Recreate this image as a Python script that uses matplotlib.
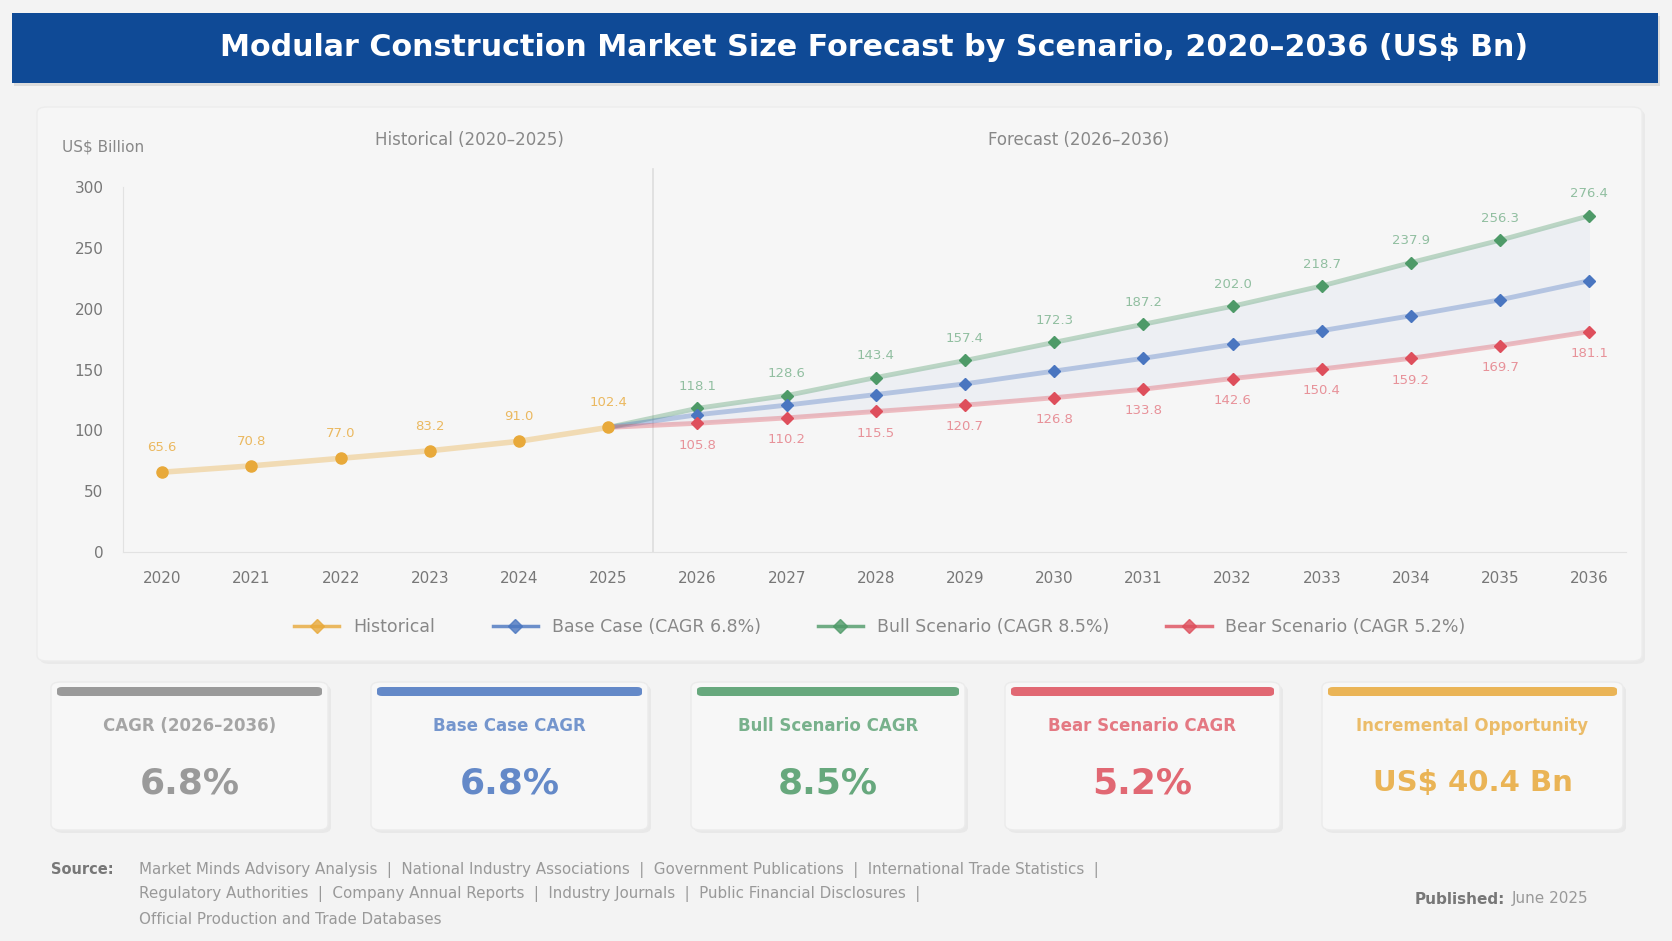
import matplotlib
matplotlib.use("Agg")
import matplotlib.pyplot as plt
from matplotlib.patches import FancyBboxPatch
from matplotlib.lines import Line2D

plt.rcParams['font.family'] = ['DejaVu Sans']

# data (US$ Bn)
hist_years = [2020, 2021, 2022, 2023, 2024, 2025]
hist_vals = [65.6, 70.8, 77.0, 83.2, 91.0, 102.4]

fc_years = [2026, 2027, 2028, 2029, 2030, 2031, 2032, 2033, 2034, 2035, 2036]
base_vals = [112.8, 120.7, 129.4, 138.2, 148.7, 159.2, 170.6, 181.9, 194.2, 207.3, 223.0]
bull_vals = [118.1, 128.6, 143.4, 157.4, 172.3, 187.2, 202.0, 218.7, 237.9, 256.3, 276.4]
bear_vals = [105.8, 110.2, 115.5, 120.7, 126.8, 133.8, 142.6, 150.4, 159.2, 169.7, 181.1]

y_ticks = [0, 50, 100, 150, 200, 250, 300]

card_titles = ["CAGR (2026–2036)", "Base Case CAGR", "Bull Scenario CAGR",
               "Bear Scenario CAGR", "Incremental Opportunity"]
card_values = ["6.8%", "6.8%", "8.5%", "5.2%", "US$ 40.4 Bn"]

sources = ["Market Minds Advisory Analysis  |  National Industry Associations  |  Government Publications  |  International Trade Statistics  |",
           "Regulatory Authorities  |  Company Annual Reports  |  Industry Journals  |  Public Financial Disclosures  |",
           "Official Production and Trade Databases"]

c_hist = '#e8a93a'
c_base = '#4a76c0'
c_bull = '#4e9a68'
c_bear = '#de4f5c'
c_gray = '#8a8a8a'
c_title = '#0f4a96'

W, H = 1672, 941
fig = plt.figure(figsize=(W / 100, H / 100), dpi=100, facecolor='#f3f3f3')


def box(x0, y0, x1, y1, **kw):
    # pixel box (from top-left) -> figure fraction patch
    p = FancyBboxPatch((x0 / W, 1 - y1 / H), (x1 - x0) / W, (y1 - y0) / H,
                       transform=fig.transFigure, zorder=0, **kw)
    fig.add_artist(p)
    return p


# title banner
box(14, 16, 1660, 86, boxstyle='square,pad=0', fc='#dcdcdc', ec='none')
box(12, 13, 1658, 83, boxstyle='square,pad=0', fc=c_title, ec='none')
fig.text(874 / W, 1 - 47 / H, "Modular Construction Market Size Forecast by Scenario, 2020–2036 (US$ Bn)",
         ha='center', va='center', color='white', fontsize=21.7, fontweight='bold')

# chart panel
box(40, 110, 1645, 664, boxstyle='round,pad=0,rounding_size=0.006', fc='#e9e9e9', ec='none')
box(37, 107, 1642, 661, boxstyle='round,pad=0,rounding_size=0.006', fc='#f6f6f6', ec='#ececec', lw=1)

ax = fig.add_axes([123 / W, 1 - 552 / H, (1626 - 123) / W, (552 - 187) / H])
ax.set_zorder(5)
ax.set_facecolor('none')
ax.set_xlim(2019.56, 2036.41)
ax.set_ylim(0, 300)
ax.set_yticks(y_ticks)
ax.set_xticks(hist_years + fc_years)
ax.tick_params(axis='both', length=0, labelsize=11, labelcolor='#777777')
ax.tick_params(axis='x', pad=14)
ax.tick_params(axis='y', pad=14)
for s in ['top', 'right']:
    ax.spines[s].set_visible(False)
for s in ['left', 'bottom']:
    ax.spines[s].set_color('#e2e2e2')

ax.axvline(2025.5, ymax=1.05, color='#dddddd', lw=1.2, zorder=1, clip_on=False)

# shaded scenario band
band_x = [hist_years[-1]] + fc_years
ax.fill_between(band_x, [hist_vals[-1]] + bear_vals, [hist_vals[-1]] + bull_vals,
                color=c_base, alpha=0.05, lw=0, zorder=1)

ax.plot(hist_years, hist_vals, color=c_hist, lw=4, alpha=0.35, zorder=2)
ax.plot(hist_years, hist_vals, color=c_hist, lw=0, marker='o', ms=8, zorder=4)

for vals, col in [(bull_vals, c_bull), (base_vals, c_base), (bear_vals, c_bear)]:
    ax.plot(band_x, [hist_vals[-1]] + vals, color=col, lw=3.5, alpha=0.35, zorder=2)
    ax.plot(fc_years, vals, color=col, lw=0, marker='D', ms=6.5, zorder=4)

for x, v in zip(hist_years, hist_vals):
    ax.annotate(f"{v:.1f}", (x, v), xytext=(0, 13), textcoords='offset points',
                ha='center', va='bottom', fontsize=9.5, color=c_hist, alpha=0.8)
for x, v in zip(fc_years, bull_vals):
    ax.annotate(f"{v:.1f}", (x, v), xytext=(0, 11), textcoords='offset points',
                ha='center', va='bottom', fontsize=9.5, color=c_bull, alpha=0.6)
for x, v in zip(fc_years, bear_vals):
    ax.annotate(f"{v:.1f}", (x, v), xytext=(0, -11), textcoords='offset points',
                ha='center', va='top', fontsize=9.5, color=c_bear, alpha=0.6)

fig.text(103 / W, 1 - 147 / H, "US$ Billion", ha='center', va='center', fontsize=11, color='#888888')
fig.text(469 / W, 1 - 140 / H, "Historical (2020–2025)", ha='center', va='center', fontsize=12, color='#888888')
fig.text(1079 / W, 1 - 140 / H, "Forecast (2026–2036)", ha='center', va='center', fontsize=12, color='#888888')

handles = [Line2D([], [], color=c_hist, marker='D', ms=7, lw=2.5, alpha=0.8),
           Line2D([], [], color=c_base, marker='D', ms=7, lw=2.5, alpha=0.8),
           Line2D([], [], color=c_bull, marker='D', ms=7, lw=2.5, alpha=0.8),
           Line2D([], [], color=c_bear, marker='D', ms=7, lw=2.5, alpha=0.8)]
labels = ["Historical", "Base Case (CAGR 6.8%)", "Bull Scenario (CAGR 8.5%)", "Bear Scenario (CAGR 5.2%)"]
fig.legend(handles, labels, loc='center', bbox_to_anchor=(880 / W, 1 - 627 / H), ncol=4,
           frameon=False, fontsize=12.5, labelcolor='#888888', columnspacing=3.3, handlelength=2.6)

# summary cards
card_x = [(51, 328), (371, 648), (691, 965), (1005, 1280), (1322, 1623)]
card_cols = [c_gray, c_base, c_bull, c_bear, c_hist]
val_sizes = [26, 26, 26, 26, 21]
for (x0, x1), col, t, v, fs in zip(card_x, card_cols, card_titles, card_values, val_sizes):
    box(x0 + 3, 685, x1 + 3, 833, boxstyle='round,pad=0,rounding_size=0.006', fc='#e8e8e8', ec='none')
    box(x0, 682, x1, 830, boxstyle='round,pad=0,rounding_size=0.006', fc='#f7f7f7', ec='#ebebeb', lw=1)
    box(x0 + 6, 687, x1 - 6, 696, boxstyle='round,pad=0,rounding_size=0.003', fc=col, ec='none', alpha=0.85)
    cx = (x0 + x1) / 2 / W
    fig.text(cx, 1 - 726 / H, t, ha='center', va='center', fontsize=12, fontweight='bold',
             color=col, alpha=0.75)
    fig.text(cx, 1 - 783 / H, v, ha='center', va='center', fontsize=fs, fontweight='bold',
             color=col, alpha=0.85)

# footer
fig.text(51 / W, 1 - 870 / H, "Source:", ha='left', va='center', fontsize=10.5, fontweight='bold', color='#777777')
for i, line in enumerate(sources):
    fig.text(139 / W, 1 - (870 + 24.5 * i) / H, line, ha='left', va='center', fontsize=10.9, color='#999999')
fig.text(1505 / W, 1 - 899 / H, "Published:", ha='right', va='center', fontsize=11, fontweight='bold', color='#777777')
fig.text(1512 / W, 1 - 899 / H, "June 2025", ha='left', va='center', fontsize=11, color='#999999')

fig.savefig('out.png', dpi=100, facecolor=fig.get_facecolor())
